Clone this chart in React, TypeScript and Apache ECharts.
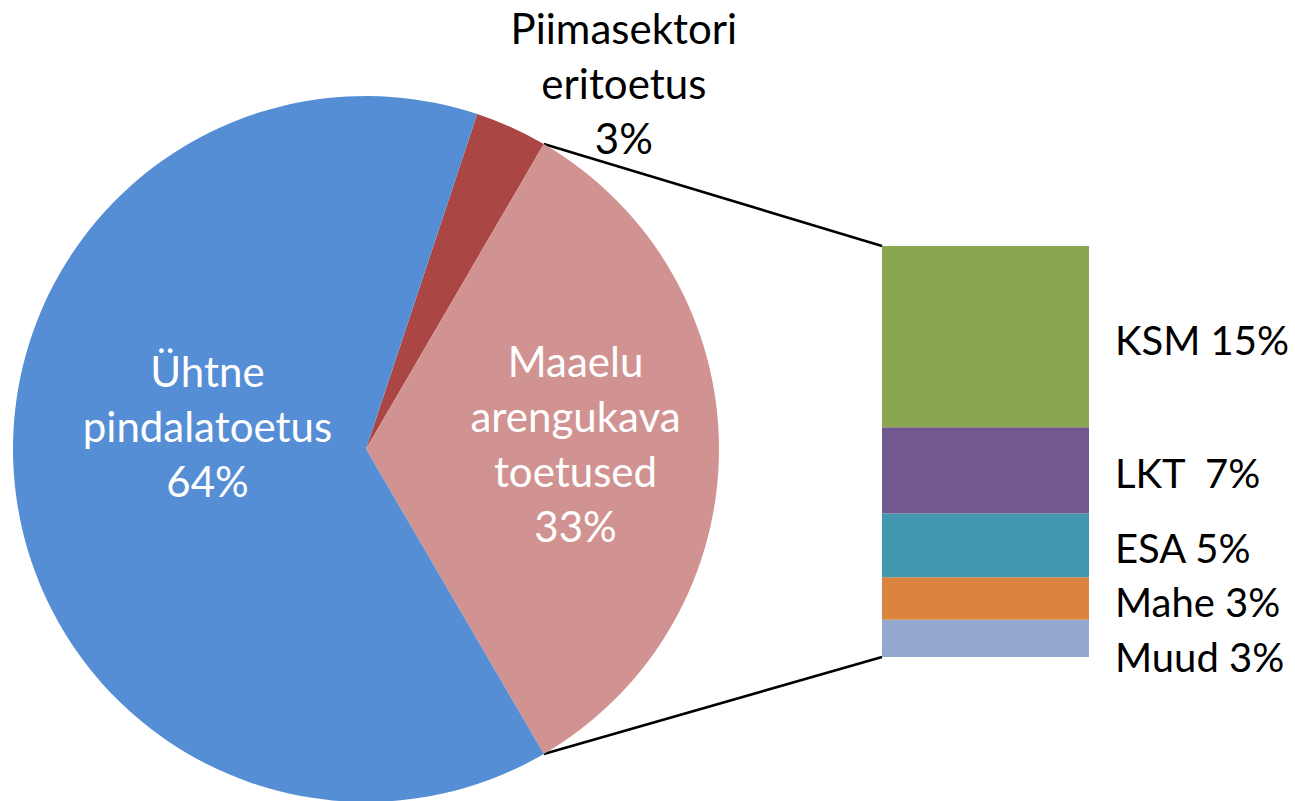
import React, { useEffect, useRef } from 'react';
import * as echarts from 'echarts';

// Pie (clockwise from the split point)
const pieNames = ['Piimasektori\neritoetus', 'Maaelu\narengukava\ntoetused', 'Ühtne\npindalatoetus'];
const pieValues = [3.3, 33.2, 63.5];
const pieLabels = ['3%', '33%', '64%'];
const pieColors = ['#AA4643', '#D19392', '#558ED5'];

// Breakdown bar (bottom to top)
const barNames = ['Muud', 'Mahe', 'ESA', 'LKT', 'KSM'];
const barValues = [3.0, 3.45, 5.15, 6.95, 14.65];
const barLabels = ['Muud 3%', 'Mahe 3%', 'ESA 5%', 'LKT  7%', 'KSM 15%'];
const barColors = ['#93A9CF', '#DB843D', '#4298AF', '#71588F', '#8AA64F'];

const FONT = 'Lato';

export default function App() {
  const ref = useRef<HTMLDivElement>(null);
  useEffect(() => {
    if (!ref.current) return;
    const chart = echarts.init(ref.current, undefined, { renderer: 'svg' });
    const total = pieValues.reduce((a, b) => a + b, 0);
    const piimaSpan = (pieValues[0] / total) * 360;
    const maaSpan = (pieValues[1] / total) * 360;
    const startAngle = maaSpan / 2 + piimaSpan;
    const cx = 366, cy = 449, R = 353;
    const gridLeft = 882, gridTop = 246, gridW = 207, gridH = 411;
    const barTotal = barValues.reduce((a, b) => a + b, 0);

    // label nudges (ECharts applies them twice for pie labels here)
    const labelOffsets = [
      { dx: 92, dy: -101 },
      { dx: 15, dy: -3 },
      { dx: 10, dy: -21 },
    ];

    chart.setOption({
      animation: false,
      backgroundColor: '#ffffff',
      grid: { left: gridLeft, top: gridTop, width: gridW, height: gridH },
      xAxis: { type: 'category', data: ['Maaelu'], show: false },
      yAxis: { type: 'value', min: 0, max: barTotal, show: false },
      series: [
        {
          type: 'pie',
          center: [cx, cy],
          radius: [0, R],
          startAngle,
          clockwise: true,
          avoidLabelOverlap: false,
          silent: true,
          label: {
            show: true,
            position: 'inside',
            fontFamily: FONT,
            fontSize: 42,
            lineHeight: 55,
            color: '#ffffff',
            align: 'center',
            formatter: (p: any) => pieNames[p.dataIndex] + '\n' + pieLabels[p.dataIndex],
          },
          labelLine: { show: false },
          labelLayout: (p: any) => ({ ...labelOffsets[p.dataIndex] }),
          data: pieValues.map((v, i) => ({
            value: v,
            name: pieNames[i],
            itemStyle: { color: pieColors[i] },
            label: i === 0 ? { color: '#000000' } : undefined,
          })),
        },
        ...barValues.map((v, i) => ({
          type: 'bar',
          name: barNames[i],
          stack: 'maaelu',
          barWidth: '100%',
          barCategoryGap: 0,
          silent: true,
          itemStyle: { color: barColors[i] },
          label: {
            show: true,
            position: 'right',
            distance: 26,
            fontFamily: FONT,
            fontSize: 40,
            color: '#000000',
            offset: i === 0 ? [0, 19] : [0, 3],
            formatter: () => barLabels[i],
          },
          data: [v],
        })),
      ],
    });

    const a1 = ((90 - startAngle + piimaSpan) * Math.PI) / 180;
    const a2 = ((90 - startAngle + piimaSpan + maaSpan) * Math.PI) / 180;
    const p1 = [cx + R * Math.sin(a1), cy - R * Math.cos(a1)];
    const p2 = [cx + R * Math.sin(a2), cy - R * Math.cos(a2)];
    const yTop = chart.convertToPixel({ yAxisIndex: 0 }, barTotal) as number;
    const yBot = chart.convertToPixel({ yAxisIndex: 0 }, 0) as number;

    chart.setOption({
      graphic: [
        {
          type: 'line',
          silent: true,
          shape: { x1: p1[0], y1: p1[1], x2: gridLeft, y2: yTop },
          style: { stroke: '#000000', lineWidth: 2.5 },
        },
        {
          type: 'line',
          silent: true,
          shape: { x1: p2[0], y1: p2[1], x2: gridLeft, y2: yBot },
          style: { stroke: '#000000', lineWidth: 2.5 },
        },
      ],
    });

    return () => chart.dispose();
  }, []);
  return (
    <div
      ref={ref}
      style={{ position: 'absolute', left: 0, top: 0, width: 1295, height: 801 }}
    />
  );
}
